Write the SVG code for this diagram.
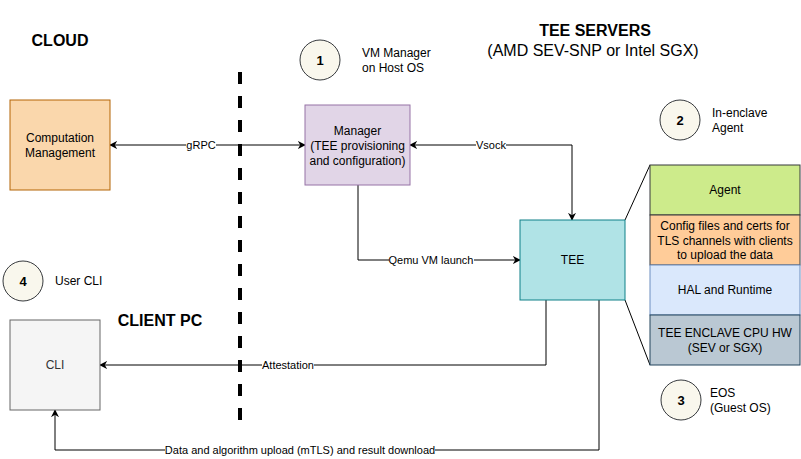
<svg xmlns="http://www.w3.org/2000/svg" width="801" height="459" viewBox="0 0 801 459">
<defs>
<style>
text{font-family:"Liberation Sans",Arial,sans-serif;fill:#000}
.n{font-size:12px;text-anchor:middle}
.l{font-size:12px}
.e{font-size:11px;text-anchor:middle}
.h{font-size:16px;font-weight:bold;text-anchor:middle}
.c{fill:none;stroke:#000;stroke-width:1}
.circ{fill:#f9f7ed;stroke:#36393d;stroke-width:1}
.lb{fill:#fff}
</style>
<marker id="a" viewBox="0 0 10 10" refX="9" refY="5" markerWidth="8" markerHeight="8" orient="auto-start-reverse" markerUnits="userSpaceOnUse"><path d="M0,0 L10,5 L0,10 L3,5 Z" fill="#000"/></marker>
</defs>
<rect width="801" height="459" fill="#fff"/>
<line x1="240" y1="72" x2="240" y2="420" stroke="#000" stroke-width="4" stroke-dasharray="12,12"/>
<text class="h" x="60" y="46">CLOUD</text>
<text class="h" x="595" y="36">TEE SERVERS</text>
<text x="593" y="56" style="font-size:16px;text-anchor:middle">(AMD SEV-SNP or Intel SGX)</text>
<text class="h" x="160" y="326">CLIENT PC</text>

<g id="connectors">
<path class="c" d="M110,145 H305" marker-start="url(#a)" marker-end="url(#a)"/>
<rect class="lb" x="186" y="139" width="30" height="12"/>
<text class="e" x="201" y="149">gRPC</text>
<path class="c" d="M410,145 H572 V220" marker-start="url(#a)" marker-end="url(#a)"/>
<rect class="lb" x="476" y="139" width="30" height="12"/>
<text class="e" x="491" y="149">Vsock</text>
<path class="c" d="M358,185 V260 H520" marker-end="url(#a)"/>
<rect class="lb" x="389" y="254" width="85" height="12"/>
<text class="e" x="431" y="264">Qemu VM launch</text>
<path class="c" d="M546,300 V365 H100" marker-end="url(#a)"/>
<rect class="lb" x="262" y="359" width="52" height="12"/>
<text class="e" x="288" y="369">Attestation</text>
<path class="c" d="M599,300 V450 H55 V410" marker-end="url(#a)"/>
<rect class="lb" x="165" y="444" width="270" height="12"/>
<text class="e" x="300" y="454">Data and algorithm upload (mTLS) and result download</text>
<path class="c" d="M625,220 L650,165 M625,300 L650,365" stroke="#000"/>
</g>

<g id="computation">
<rect x="10" y="100" width="100" height="90" fill="#fad7ac" stroke="#b46504"/>
<text class="n" x="60" y="142">Computation</text>
<text class="n" x="60" y="157">Management</text>
</g>
<g id="manager">
<rect x="305" y="105" width="105" height="80" fill="#e1d5e7" stroke="#9673a6"/>
<text class="n" x="357.5" y="135">Manager</text>
<text class="n" x="357.5" y="150">(TEE provisioning</text>
<text class="n" x="357.5" y="165">and configuration)</text>
</g>
<g id="tee">
<rect x="520" y="220" width="105" height="80" fill="#b0e3e6" stroke="#0e8088"/>
<text class="n" x="572.5" y="264">TEE</text>
</g>
<g id="agent">
<rect x="650" y="165" width="150" height="50" fill="#cdeb8b" stroke="#36393d"/>
<text class="n" x="725" y="194">Agent</text>
</g>
<g id="config">
<rect x="650" y="215" width="150" height="50" fill="#ffcc99" stroke="#36393d"/>
<text class="n" x="725" y="230">Config files and certs for</text>
<text class="n" x="725" y="245">TLS channels with clients</text>
<text class="n" x="725" y="259">to upload the data</text>
</g>
<g id="hal">
<rect x="650" y="265" width="150" height="50" fill="#dae8fc" stroke="#6c8ebf"/>
<text class="n" x="725" y="294">HAL and Runtime</text>
</g>
<g id="hw">
<rect x="650" y="315" width="150" height="50" fill="#bac8d3" stroke="#23445d"/>
<text class="n" x="725" y="337">TEE ENCLAVE CPU HW</text>
<text class="n" x="725" y="352">(SEV or SGX)</text>
</g>
<g id="cli">
<rect x="10" y="320" width="90" height="90" fill="#f5f5f5" stroke="#666666"/>
<text class="n" x="55" y="369" style="fill:#333">CLI</text>
</g>
<g id="badge1">
<circle class="circ" cx="320" cy="60" r="20"/>
<text class="n" x="320" y="65" style="font-weight:bold;font-size:13px">1</text>
<text class="l" x="362" y="57">VM Manager</text>
<text class="l" x="362" y="72">on Host OS</text>
</g>
<g id="badge2">
<circle class="circ" cx="680" cy="120" r="20"/>
<text class="n" x="680" y="125" style="font-weight:bold;font-size:13px">2</text>
<text class="l" x="712" y="117">In-enclave</text>
<text class="l" x="712" y="132">Agent</text>
</g>
<g id="badge3">
<circle class="circ" cx="681" cy="400" r="20"/>
<text class="n" x="681" y="405" style="font-weight:bold;font-size:13px">3</text>
<text class="l" x="710" y="397">EOS</text>
<text class="l" x="710" y="412">(Guest OS)</text>
</g>
<g id="badge4">
<circle class="circ" cx="23" cy="281" r="20"/>
<text class="n" x="23" y="286" style="font-weight:bold;font-size:13px">4</text>
<text class="l" x="55" y="285">User CLI</text>
</g>
</svg>
